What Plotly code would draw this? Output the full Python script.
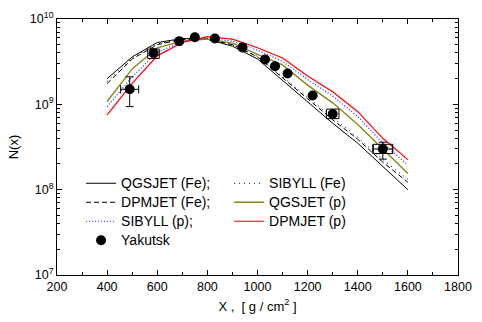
import plotly.graph_objects as go
import numpy as np

depth = [400, 500, 600, 700, 800, 900, 1000, 1100, 1200, 1300, 1400, 1500, 1600]
qgsjet_fe = [2.0e9, 3.6e9, 5.3e9, 5.9e9, 5.8e9, 4.8e9, 3.4e9, 1.9e9, 1.05e9, 6.0e8, 3.5e8, 1.86e8, 1.0e8]
dpmjet_fe = [1.75e9, 3.4e9, 5.0e9, 5.8e9, 5.8e9, 5.0e9, 3.6e9, 2.05e9, 1.15e9, 6.6e8, 3.9e8, 2.1e8, 1.22e8]
sibyll_fe = [1.85e9, 3.5e9, 5.1e9, 5.8e9, 5.8e9, 5.0e9, 3.65e9, 2.1e9, 1.2e9, 7.0e8, 4.1e8, 2.25e8, 1.32e8]
qgsjet_p = [1.08e9, 2.6e9, 4.6e9, 5.5e9, 5.8e9, 5.2e9, 3.85e9, 2.9e9, 1.68e9, 1.04e9, 5.8e8, 3.0e8, 1.55e8]
sibyll_p = [9.4e8, 2.1e9, 4.1e9, 5.4e9, 6.0e9, 5.5e9, 4.3e9, 3.2e9, 1.95e9, 1.25e9, 7.2e8, 3.5e8, 1.95e8]
dpmjet_p = [7.5e8, 1.76e9, 3.7e9, 5.3e9, 6.2e9, 5.8e9, 4.6e9, 3.5e9, 2.15e9, 1.4e9, 8.2e8, 4.0e8, 2.25e8]

yak_x = [490, 585, 688, 750, 830, 940, 1030, 1070, 1120, 1220, 1300, 1500]
yak_y = [1.5e9, 4.0e9, 5.5e9, 6.1e9, 5.9e9, 4.65e9, 3.35e9, 2.8e9, 2.3e9, 1.27e9, 7.7e8, 3.0e8]
yak_xerr = [36, 0, 0, 0, 0, 0, 0, 0, 0, 0, 0, 38]
yak_yerr_plus = [6.0e8, 0, 0, 0, 0, 0, 0, 0, 0, 0, 0, 6.0e7]
yak_yerr_minus = [5.6e8, 0, 0, 0, 0, 0, 0, 0, 0, 0, 0, 7.2e7]

box_x = [585, 1300, 1500]
box_dx = [23, 25, 40]
box_ylo = [3.45e9, 6.8e8, 2.65e8]
box_yhi = [4.45e9, 8.8e8, 3.4e8]

LEG_SPAN = "<span style='font-size:14px'>{}</span>"

fig = go.Figure()

def add_line(name, y, color, dash, width=1.0):
    fig.add_trace(go.Scatter(x=depth, y=y, name=LEG_SPAN.format(name), mode="lines",
                             line=dict(color=color, dash=dash, width=width)))

add_line("QGSJET (Fe);", qgsjet_fe, "black", "solid")
add_line("SIBYLL (Fe)", sibyll_fe, "black", "1px,4px")
add_line("DPMJET (Fe);", dpmjet_fe, "black", "5px,3px")
add_line("QGSJET (p)", qgsjet_p, "#858510", "solid", 1.3)
add_line("SIBYLL (p);", sibyll_p, "#2020ff", "1px,2px", 1.2)
add_line("DPMJET (p)", dpmjet_p, "#ff0000", "solid", 1.2)

# boxes around selected points
bx, by = [], []
for xc, dx, lo, hi in zip(box_x, box_dx, box_ylo, box_yhi):
    bx += [xc - dx, xc + dx, xc + dx, xc - dx, xc - dx, None]
    by += [lo, lo, hi, hi, lo, None]
fig.add_trace(go.Scatter(x=bx, y=by, mode="lines", showlegend=False,
                         line=dict(color="black", width=1), hoverinfo="skip"))

fig.add_trace(go.Scatter(
    x=yak_x, y=yak_y, name=LEG_SPAN.format("Yakutsk"), mode="markers",
    marker=dict(color="black", size=10),
    error_x=dict(type="data", array=yak_xerr, color="black", thickness=1, width=4),
    error_y=dict(type="data", array=yak_yerr_plus, arrayminus=yak_yerr_minus,
                 color="black", thickness=1, width=4),
))

axis_common = dict(showline=True, linecolor="black", linewidth=1, mirror="ticks",
                   ticks="inside", ticklen=5, tickcolor="black", showgrid=False,
                   zeroline=False, tickfont=dict(size=12.5, color="black"))

fig.update_layout(
    width=482, height=322,
    margin=dict(l=57, r=15, t=10, b=47),
    paper_bgcolor="white", plot_bgcolor="white",
    font=dict(family="Liberation Sans, Arial, sans-serif", color="black"),
    xaxis=dict(range=[200, 1800], tickvals=[200, 400, 600, 800, 1000, 1200, 1400, 1600, 1800],
               minor=dict(ticks="inside", ticklen=3, tickcolor="black", dtick=100, tick0=200),
               title=dict(text="X ,  [ g / cm<sup>2</sup> ]", font=dict(size=13), standoff=8),
               **axis_common),
    yaxis=dict(type="log", range=[7, 10], tickvals=[1e7, 1e8, 1e9, 1e10],
               ticktext=["10<sup>7</sup>", "10<sup>8</sup>", "10<sup>9</sup>", "10<sup>10</sup>"],
               minor=dict(ticks="inside", ticklen=3, tickcolor="black", dtick="D1"),
               title=dict(text="N(x)", font=dict(size=13), standoff=8),
               **axis_common),
    legend=dict(orientation="h", x=0.06, y=0.415, xanchor="left", yanchor="top",
                entrywidth=103, entrywidthmode="pixels",
                font=dict(size=12), bgcolor="rgba(0,0,0,0)", itemwidth=30,
                tracegroupgap=0),
)

fig.write_html("out.html")
